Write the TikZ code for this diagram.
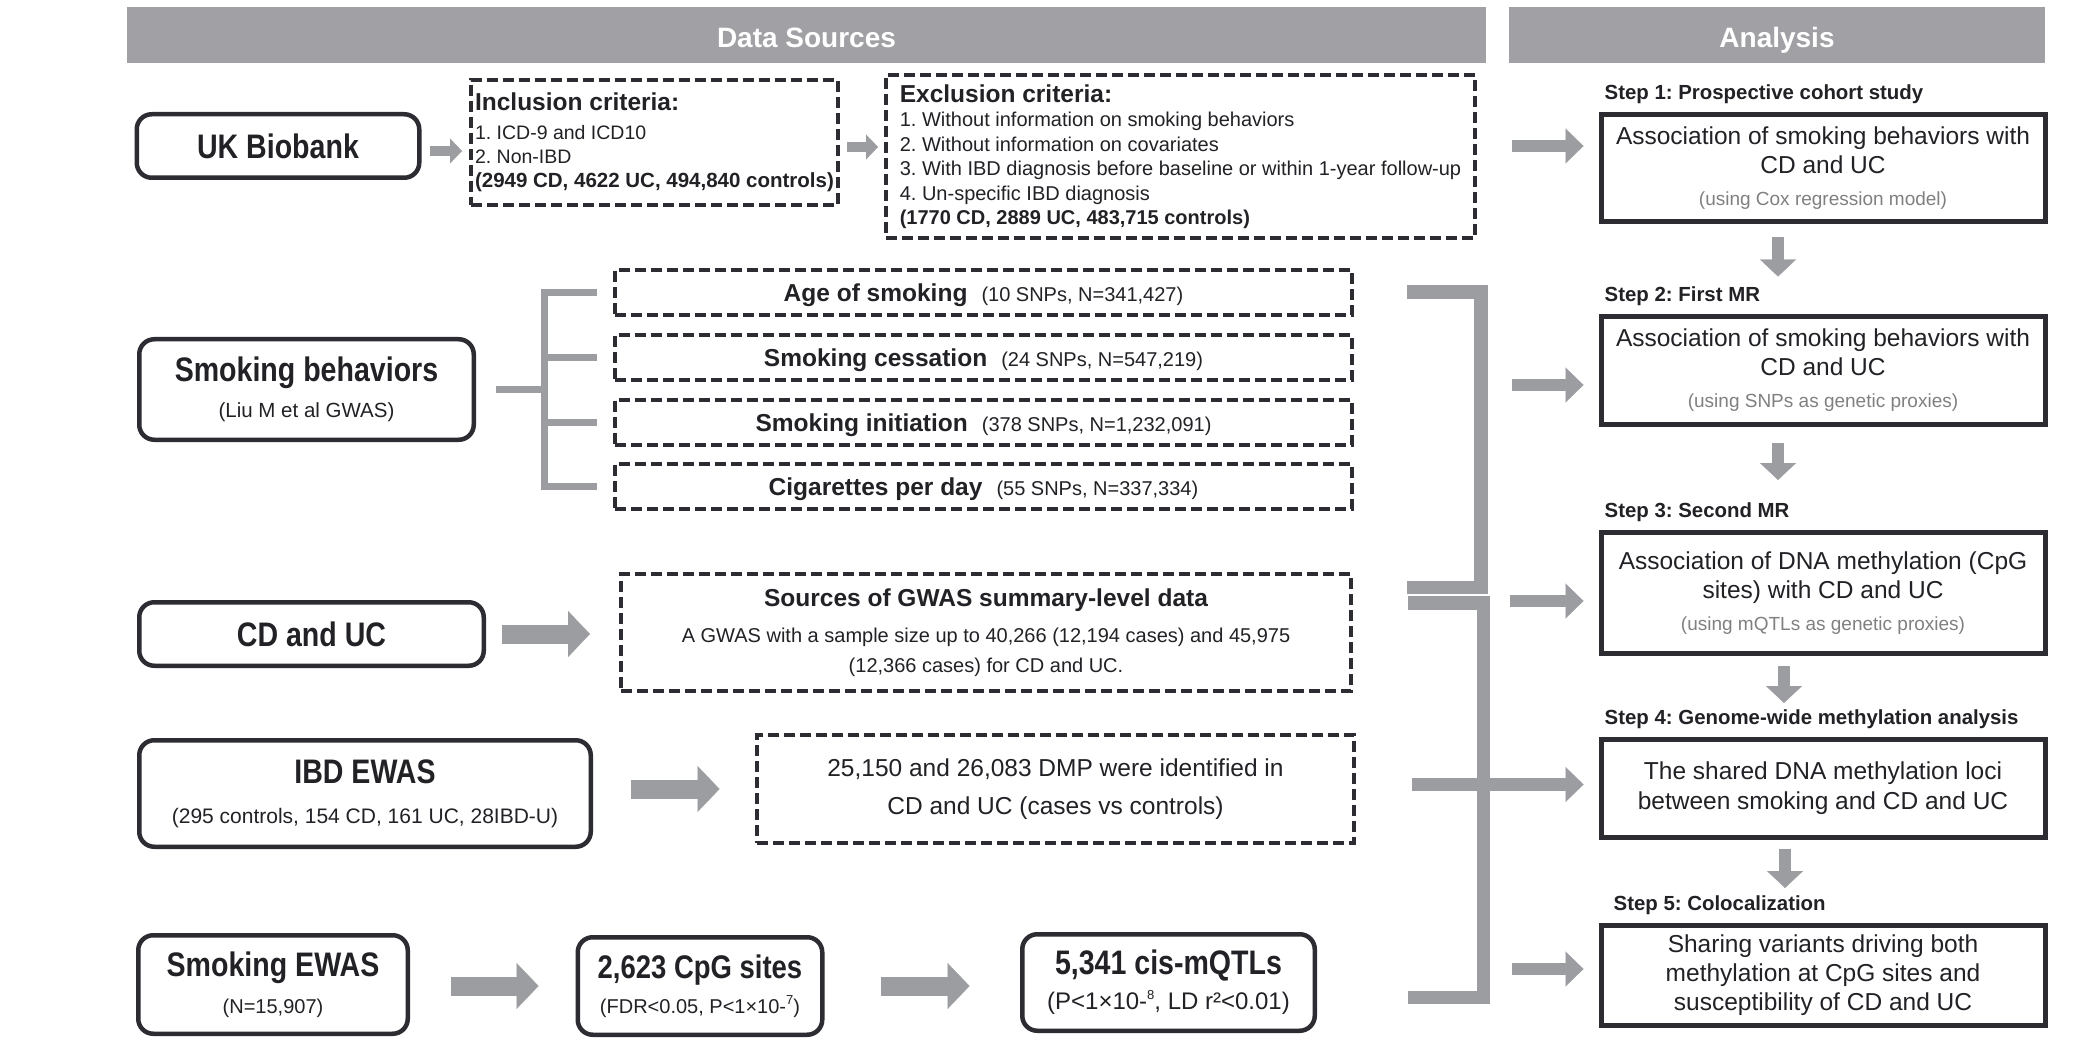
\documentclass[tikz,border=0pt]{standalone}
\usepackage{fontspec}
\setmainfont{Liberation Sans}
\newfontfamily\condfont{Liberation Sans}[FakeStretch=0.84]
\usetikzlibrary{positioning,arrows.meta}

\definecolor{boxline}{RGB}{44,44,50}
\definecolor{inktext}{RGB}{33,33,38}
\definecolor{bargray}{RGB}{161,161,165}
\definecolor{flowgray}{RGB}{156,157,161}
\definecolor{hintgray}{RGB}{128,128,130}

\newcommand{\bigbold}{\condfont\fontsize{34}{40}\selectfont\bfseries}
\newcommand{\midbold}{\fontsize{24.5}{29}\selectfont\bfseries}
\newcommand{\hint}{\fontsize{19}{23}\selectfont\color{hintgray}}
\newcommand{\snpinfo}[1]{\hspace{14pt}{\fontsize{20}{24}\selectfont\mdseries #1}}
\newcommand{\supnum}[1]{\raisebox{0.42em}{\fontsize{13}{13}\selectfont #1}}

\tikzset{
  headbar/.style={fill=bargray, text=white, minimum height=56pt, inner sep=0pt,
    text height=25pt, text depth=0pt, font=\fontsize{28}{34}\selectfont\bfseries},
  srcbox/.style={draw=boxline, line width=4.5pt, rounded corners=15pt, align=center,
    text=inktext, inner sep=2pt},
  critbox/.style={draw=boxline, line width=4pt, dash pattern=on 11pt off 5pt,
    text=inktext, inner sep=2pt},
  traitbox/.style={critbox, minimum width=737pt, minimum height=45pt,
    text height=18pt, text depth=0pt, font=\midbold},
  stepbox/.style={draw=boxline, line width=5pt, minimum width=444pt, align=center,
    text=inktext, inner sep=0pt},
  steplabel/.style={anchor=base west, inner sep=0pt, text=inktext,
    font=\fontsize{20.4}{24}\selectfont\bfseries},
  forkline/.style={draw=flowgray, line width=7pt},
  joinbar/.style={draw=flowgray, line width=13.5pt},
  bigarrow/.style={draw=flowgray, line width=19pt, shorten >=20pt,
    postaction={draw=flowgray, line width=0.2pt, shorten >=0pt, -{Triangle[length=22pt,width=46pt]}}},
  smallarrow/.style={draw=flowgray, line width=10pt, shorten >=11pt,
    postaction={draw=flowgray, line width=0.2pt, shorten >=0pt, -{Triangle[length=12pt,width=25pt]}}},
  steparrow/.style={draw=flowgray, line width=12.5pt, shorten >=17pt,
    postaction={draw=flowgray, line width=0.2pt, shorten >=0pt, -{Triangle[length=18pt,width=35pt]}}},
  downarrow/.style={draw=flowgray, line width=12pt, shorten >=16pt,
    postaction={draw=flowgray, line width=0.2pt, shorten >=0pt, -{Triangle[length=17pt,width=36pt]}}},
}

\begin{document}
\frenchspacing
\begin{tikzpicture}[x=1pt,y=-1pt]
\fill[white] (0,0) rectangle (2096,1048);
\useasboundingbox (0,0) rectangle (2096,1048);

% headers
\node[headbar, minimum width=1359pt] (dsbar) at (806.5,35) {Data Sources};
\node[headbar, minimum width=536pt] (anbar) at (1777,35) {Analysis};

% UK Biobank row
\node[srcbox, minimum width=282.5pt, minimum height=63.5pt, font=\bigbold] (ukb) at (278,146) {UK Biobank};
\node[critbox, minimum width=367pt, minimum height=125pt, align=left,
      font=\fontsize{19.5}{24}\selectfont] (incl) at (654.5,142.5)
  {{\midbold Inclusion criteria:}\\[5pt]
   1. ICD-9 and ICD10\\
   2. Non-IBD\\
   {\fontsize{20.5}{24}\selectfont\bfseries (2949 CD, 4622 UC, 494,840 controls)}};
\node[critbox, minimum width=589pt, minimum height=163pt, align=left,
      font=\fontsize{20}{24.5}\selectfont] (excl) at (1180.5,156.5)
  {{\midbold Exclusion criteria:}\\
   1. Without information on smoking behaviors\\
   2. Without information on covariates\\
   3. With IBD diagnosis before baseline or within 1-year follow-up\\
   4. Un-specific IBD diagnosis\\
   {\bfseries (1770 CD, 2889 UC, 483,715 controls)}};
\draw[smallarrow] ([xshift=8.5pt,yshift=-5pt]ukb.east) -- ([xshift=-7pt,yshift=-5pt]incl.west |- ukb.east);
\draw[smallarrow] ([xshift=7pt,yshift=-4.5pt]incl.east) -- ([xshift=-6pt,yshift=-4.5pt]excl.west |- incl.east);

% smoking behaviors
\node[srcbox, minimum width=334.5pt, minimum height=100.5pt, font=\fontsize{20.5}{36}\selectfont] (smk) at (306.5,389.5)
  {{\bigbold Smoking behaviors}\\(Liu M et al GWAS)};
\node[traitbox] (age) at (983.5,292.5)
  {Age of smoking\snpinfo{(10 SNPs, N=341,427)}};
\node[traitbox, below of=age, node distance=64.8pt] (cess)
  {Smoking cessation\snpinfo{(24 SNPs, N=547,219)}};
\node[traitbox, below of=cess, node distance=64.8pt] (init)
  {Smoking initiation\snpinfo{(378 SNPs, N=1,232,091)}};
\node[traitbox, below of=init, node distance=64.8pt] (cig)
  {Cigarettes per day\snpinfo{(55 SNPs, N=337,334)}};

\coordinate (fork) at ([xshift=68pt]smk.east);
\draw[forkline] ([xshift=20pt]smk.east) -- (fork);
\draw[forkline] ([xshift=-16pt]age.west) -| (fork) |- ([xshift=-16pt]cig.west);
\draw[forkline] (fork |- cess) -- ([xshift=-16pt]cess.west);
\draw[forkline] (fork |- init) -- ([xshift=-16pt]init.west);

\draw[joinbar] (1407,292) -- (1481,292) -- (1481,587.5) -- (1407,587.5);

% CD and UC
\node[srcbox, minimum width=344.5pt, minimum height=63.5pt, font=\bigbold] (cduc) at (311.5,634) {CD and UC};
\node[critbox, minimum width=730pt, minimum height=117pt, align=center,
      font=\fontsize{20}{30}\selectfont] (gwas) at (986,632.5)
  {{\midbold Sources of GWAS summary-level data}\\[6pt]
   A GWAS with a sample size up to 40,266 (12,194 cases) and 45,975\\
   (12,366 cases) for CD and UC.};
\draw[bigarrow] ([xshift=15.5pt]cduc.east) -- ([xshift=-29pt]gwas.west |- cduc.east);

% IBD EWAS
\node[srcbox, minimum width=451.5pt, minimum height=106.5pt, font=\fontsize{21}{40}\selectfont] (ibd) at (365,793.5)
  {{\bigbold IBD EWAS}\\(295 controls, 154 CD, 161 UC, 28IBD-U)};
\node[critbox, minimum width=597pt, minimum height=108pt, align=center,
      font=\fontsize{24.5}{38}\selectfont] (dmp) at (1055.5,789)
  {25,150 and 26,083 DMP were identified in\\CD and UC (cases vs controls)};
\draw[bigarrow] ([xshift=38pt]ibd.east |- dmp.west) -- ([xshift=-35.5pt]dmp.west);

% Smoking EWAS
\node[srcbox, minimum width=269.5pt, minimum height=98.5pt, font=\fontsize{20}{37}\selectfont] (sewas) at (273,984.5)
  {{\bigbold Smoking EWAS}\\(N=15,907)};
\node[srcbox, minimum width=244.5pt, minimum height=97.5pt, font=\fontsize{20}{35}\selectfont] (cpg) at (700,986)
  {{\condfont\fontsize{32.7}{38}\selectfont\bfseries 2,623 CpG sites}\\(FDR<0.05, P<1×10-\supnum{7})};
\node[srcbox, minimum width=292.5pt, minimum height=96.5pt, font=\fontsize{24}{35}\selectfont] (mqtl) at (1168.5,982.5)
  {{\bigbold 5,341 cis-mQTLs}\\(P<1×10-\supnum{8}, LD r²<0.01)};
\draw[bigarrow] ([xshift=40.5pt]sewas.east |- cpg.west) -- ([xshift=-37pt]cpg.west);
\draw[bigarrow] ([xshift=56pt]cpg.east) -- ([xshift=-50.5pt]mqtl.west |- cpg.east);

\draw[joinbar] (1408,603) -- (1483.5,603) -- (1483.5,997.5) -- (1408,997.5);

% analysis steps
\node[stepbox, minimum height=107pt, font=\fontsize{24.5}{29}\selectfont] (st1) at (1823,168)
  {Association of smoking behaviors with\\CD and UC\\[3pt]{\hint (using Cox regression model)}};
\node[stepbox, minimum height=108pt, font=\fontsize{24.5}{29}\selectfont] (st2) at (1823,370.5)
  {Association of smoking behaviors with\\CD and UC\\[3pt]{\hint (using SNPs as genetic proxies)}};
\node[stepbox, minimum height=121pt, font=\fontsize{24.5}{29}\selectfont] (st3) at (1823,593)
  {Association of DNA methylation (CpG\\sites) with CD and UC\\[3pt]{\hint (using mQTLs as genetic proxies)}};
\node[stepbox, minimum height=98pt, font=\fontsize{24.5}{30}\selectfont] (st4) at (1823,788.5)
  {The shared DNA methylation loci\\between smoking and CD and UC};
\node[stepbox, minimum height=100pt, font=\fontsize{24.5}{29}\selectfont] (st5) at (1823,975.5)
  {Sharing variants driving both\\methylation at CpG sites and\\susceptibility of CD and UC};

\node[steplabel] (lab1) at ([xshift=6pt,yshift=12.5pt]st1.north west) {Step 1: Prospective cohort study};
\node[steplabel] (lab2) at ([xshift=6pt,yshift=12.5pt]st2.north west) {Step 2: First MR};
\node[steplabel] (lab3) at ([xshift=6pt,yshift=12.5pt]st3.north west) {Step 3: Second MR};
\node[steplabel] (lab4) at ([xshift=6pt,yshift=12.5pt]st4.north west) {Step 4: Genome-wide methylation analysis};
\node[steplabel] (lab5) at ([xshift=15pt,yshift=12.5pt]st5.north west) {Step 5: Colocalization};

\draw[downarrow] ([xshift=-45pt,yshift=-13pt]st1.south) -- ([xshift=-45pt,yshift=37.5pt]st2.north);
\draw[downarrow] ([xshift=-45pt,yshift=-16pt]st2.south) -- ([xshift=-45pt,yshift=50pt]st3.north);
\draw[downarrow] ([xshift=-39pt,yshift=-10pt]st3.south) -- ([xshift=-39pt,yshift=34pt]st4.north);
\draw[downarrow] ([xshift=-38pt,yshift=-9pt]st4.south) -- ([xshift=-38pt,yshift=35pt]st5.north);

% arrows into the steps
\coordinate (in1) at (1512,146);
\coordinate (in2) at (1512,385);
\coordinate (in3) at (1510,601);
\coordinate (in4) at (1412,784.5);
\coordinate (in5) at (1512,969);
\draw[steparrow] (in1) -- ([xshift=-15pt]in1 -| st1.west);
\draw[steparrow] (in2) -- ([xshift=-15pt]in2 -| st2.west);
\draw[steparrow] (in3) -- ([xshift=-15pt]in3 -| st3.west);
\draw[steparrow] (in4) -- ([xshift=-15pt]in4 -| st4.west);
\draw[steparrow] (in5) -- ([xshift=-15pt]in5 -| st5.west);
\end{tikzpicture}
\end{document}
